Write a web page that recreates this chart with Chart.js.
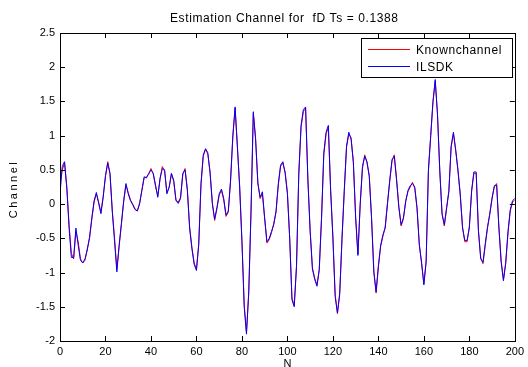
<!DOCTYPE html>
<html><head><meta charset="utf-8">
<script src="https://cdn.jsdelivr.net/npm/chart.js@4/dist/chart.umd.min.js"></script>
<style>html,body{margin:0;padding:0;background:#fff}#wrap{width:528px;height:367px}</style>
</head><body><div id="wrap"><canvas id="c" width="528" height="367"></canvas></div>
<script>
const titleText = "Estimation Channel for  fD Ts = 0.1388";
const xLabel = "N";
const yLabel = "Channel";
const seriesNames = ["Knownchannel", "ILSDK"];
const xTicks = [0,20,40,60,80,100,120,140,160,180,200];
const yTicks = [-2,-1.5,-1,-0.5,0,0.5,1,1.5,2,2.5];
const nIndex = Array.from({length:201},(_,i)=>i);
const ilsdk = [
0.15,0.55,0.62,0.23,-0.35,-0.78,-0.78,-0.35,-0.6,-0.82,
-0.86,-0.8,-0.67,-0.48,-0.2,0.05,0.17,0.01,-0.14,0.1,
0.42,0.6,0.45,-0.11,-0.55,-0.99,-0.6,-0.28,0.05,0.3,
0.15,0.05,-0.01,-0.08,-0.1,0.0,0.2,0.4,0.38,0.45,
0.5,0.45,0.28,0.1,0.38,0.52,0.5,0.15,0.25,0.45,
0.35,0.06,0.01,0.08,0.45,0.5,0.2,-0.35,-0.65,-0.88,
-0.97,-0.6,0.3,0.72,0.81,0.75,0.45,0.0,-0.22,-0.05,
0.15,0.22,0.08,-0.16,-0.1,0.35,1.0,1.42,0.85,0.25,
-0.55,-1.5,-1.9,-1.28,-0.1,1.35,0.95,0.3,0.1,0.18,
-0.2,-0.55,-0.5,-0.4,-0.3,-0.1,0.3,0.57,0.62,0.45,
0.15,-0.5,-1.4,-1.5,-0.9,0.45,1.15,1.38,1.42,0.35,
-0.4,-0.95,-1.1,-1.2,-0.95,-0.2,0.75,1.05,1.15,0.2,
-0.5,-1.35,-1.59,-1.3,-0.5,0.2,0.85,1.05,0.95,0.62,
-0.2,-0.75,0.0,0.55,0.7,0.62,0.4,-0.21,-1.0,-1.28,
-0.9,-0.6,-0.45,-0.35,0.0,0.35,0.65,0.7,0.35,-0.05,
-0.3,-0.2,0.03,0.2,0.27,0.3,0.25,-0.05,-0.6,-0.85,
-1.18,-0.85,0.5,1.0,1.5,1.82,1.3,0.5,-0.15,-0.3,
-0.05,0.18,0.85,1.05,0.78,0.5,0.15,-0.35,-0.53,-0.53,
-0.35,0.2,0.47,0.47,-0.4,-0.8,-0.85,-0.58,-0.33,-0.15,
0.08,0.27,0.28,-0.35,-0.85,-1.12,-0.85,-0.4,-0.08,0.05,
0.08];
const knownchannel = [
0.3,0.5,0.6,0.25,-0.3,-0.72,-0.8,-0.4,-0.55,-0.8,
-0.86,-0.82,-0.65,-0.5,-0.22,0.03,0.15,0.03,-0.12,0.12,
0.4,0.62,0.43,-0.1,-0.5,-0.95,-0.62,-0.3,0.03,0.28,
0.17,0.06,0.0,-0.07,-0.1,0.02,0.2,0.38,0.4,0.43,
0.52,0.44,0.26,0.12,0.36,0.55,0.48,0.17,0.24,0.44,
0.33,0.05,0.03,0.1,0.43,0.52,0.22,-0.33,-0.63,-0.86,
-0.95,-0.58,0.28,0.7,0.8,0.73,0.47,0.02,-0.24,-0.07,
0.13,0.2,0.06,-0.18,-0.12,0.33,0.98,1.4,0.83,0.27,
-0.52,-1.47,-1.87,-1.3,-0.12,1.32,0.97,0.32,0.08,0.15,
-0.22,-0.57,-0.52,-0.42,-0.28,-0.12,0.28,0.55,0.6,0.47,
0.17,-0.48,-1.37,-1.48,-0.92,0.43,1.12,1.35,1.4,0.37,
-0.38,-0.93,-1.08,-1.18,-0.97,-0.22,0.72,1.02,1.12,0.22,
-0.47,-1.32,-1.6,-1.32,-0.52,0.18,0.83,1.02,0.97,0.6,
-0.18,-0.73,-0.02,0.52,0.72,0.6,0.42,-0.19,-0.97,-1.3,
-0.92,-0.62,-0.47,-0.33,0.02,0.33,0.63,0.72,0.37,-0.03,
-0.32,-0.22,0.05,0.18,0.25,0.32,0.23,-0.07,-0.58,-0.87,
-1.16,-0.83,0.48,0.98,1.48,1.8,1.32,0.48,-0.13,-0.32,
-0.07,0.2,0.83,1.03,0.8,0.48,0.13,-0.33,-0.55,-0.55,
-0.33,0.18,0.45,0.45,-0.38,-0.78,-0.87,-0.6,-0.35,-0.13,
0.1,0.25,0.3,-0.33,-0.83,-1.1,-0.87,-0.42,-0.1,0.03,
0.06];

const FONT = "'Liberation Sans', Arial, sans-serif";

const decor = {
  id: 'decor',
  afterDraw(chart) {
    const ctx = chart.ctx, a = chart.chartArea;
    const xs = chart.scales.x, ys = chart.scales.y;
    ctx.save();
    ctx.strokeStyle = '#000';
    ctx.lineWidth = 1;
    ctx.beginPath();
    xTicks.forEach(v => {
      const p = Math.round(xs.getPixelForValue(v)) + 0.5;
      ctx.moveTo(p, a.bottom); ctx.lineTo(p, a.bottom - 5);
      ctx.moveTo(p, a.top); ctx.lineTo(p, a.top + 5);
    });
    yTicks.forEach(v => {
      const p = Math.round(ys.getPixelForValue(v)) + 0.5;
      ctx.moveTo(a.left, p); ctx.lineTo(a.left + 5, p);
      ctx.moveTo(a.right, p); ctx.lineTo(a.right - 5, p);
    });
    ctx.stroke();
    ctx.strokeRect(Math.round(a.left)+0.5, Math.round(a.top)+0.5, Math.round(a.right-a.left), Math.round(a.bottom-a.top));
    // title
    ctx.fillStyle = '#000';
    ctx.textBaseline = 'middle';
    ctx.textAlign = 'left';
    ctx.font = '12px ' + FONT;
    if ('letterSpacing' in ctx) ctx.letterSpacing = '0.6px';
    ctx.fillText(titleText, 170, 19);
    if ('letterSpacing' in ctx) ctx.letterSpacing = '0px';
    // x label
    ctx.textAlign = 'center';
    ctx.font = '11px ' + FONT;
    ctx.fillText(xLabel, (a.left + a.right) / 2, 364);
    // y label
    ctx.save();
    ctx.translate(14, (a.top + a.bottom) / 2 + 2);
    ctx.rotate(-Math.PI / 2);
    if ('letterSpacing' in ctx) ctx.letterSpacing = '2.5px';
    ctx.fillText(yLabel, 0, 0);
    ctx.restore();
    // legend
    const lx = 361, ly = 38, lw = 151, lh = 39;
    ctx.fillStyle = '#fff';
    ctx.fillRect(lx, ly, lw, lh);
    ctx.strokeRect(lx + 0.5, ly + 0.5, lw, lh);
    chart.data.datasets.forEach((ds, i) => {
      const yy = ly + 11 + i * 17 + 0.5;
      ctx.strokeStyle = ds.borderColor;
      ctx.beginPath(); ctx.moveTo(lx + 7, yy); ctx.lineTo(lx + 49, yy); ctx.stroke();
      ctx.fillStyle = '#000';
      ctx.textAlign = 'left';
      ctx.font = '12px ' + FONT;
      if ('letterSpacing' in ctx) ctx.letterSpacing = '0.6px';
      ctx.fillText(ds.label, lx + 55, yy + 1);
    });
    ctx.restore();
  }
};

new Chart(document.getElementById('c'), {
  type: 'line',
  data: {
    labels: nIndex,
    datasets: [
      { label: seriesNames[0], order: 1, data: nIndex.map((n,i)=>({x:n,y:knownchannel[i]})), borderColor: 'rgb(255,0,0)', borderWidth: 1, pointRadius: 0, tension: 0, fill: false },
      { label: seriesNames[1], order: 0, data: nIndex.map((n,i)=>({x:n,y:ilsdk[i]})), borderColor: 'rgb(0,0,255)', borderWidth: 1, pointRadius: 0, tension: 0, fill: false }
    ]
  },
  options: {
    responsive: false,
    animation: false,
    devicePixelRatio: 1,
    layout: { padding: { left: 0, right: 12, top: 33, bottom: 0 } },
    plugins: { legend: { display: false }, title: { display: false }, tooltip: { enabled: false } },
    scales: {
      x: {
        type: 'linear', min: 0, max: 200,
        afterFit: s => { s.height = 26; },
        afterBuildTicks: s => { s.ticks = xTicks.map(v => ({value: v})); },
        grid: { display: false, drawTicks: false },
        border: { display: false },
        ticks: { color: '#000', padding: 4, maxRotation: 0, autoSkip: false, font: { family: FONT, size: 11 } }
      },
      y: {
        type: 'linear', min: -2, max: 2.5,
        afterFit: s => { s.width = 60; },
        afterBuildTicks: s => { s.ticks = yTicks.map(v => ({value: v})); },
        grid: { display: false, drawTicks: false },
        border: { display: false },
        ticks: { color: '#000', padding: 5, autoSkip: false, font: { family: FONT, size: 11 }, callback: v => String(v) }
      }
    }
  },
  plugins: [decor]
});
</script></body></html>
